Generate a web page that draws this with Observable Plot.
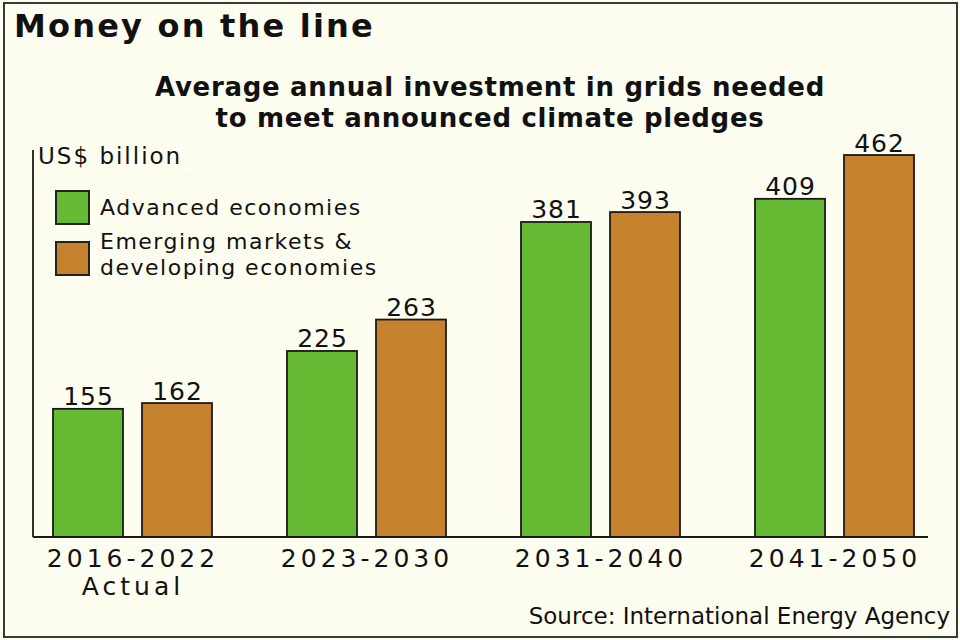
<!DOCTYPE html>
<html><head><meta charset="utf-8">
<script src="https://cdn.jsdelivr.net/npm/d3@7"></script>
<script src="https://cdn.jsdelivr.net/npm/@observablehq/plot@0.6"></script>
<style>
body{margin:0;background:#fdfdf0;}
#wrap{position:relative;width:960px;height:640px;background:#fdfdf0;font-family:"DejaVu Sans",sans-serif;color:#111;overflow:hidden}
#frame{position:absolute;left:3px;top:2px;width:955px;height:636px;border:2px solid #3a3a3a;box-sizing:border-box}
#title{position:absolute;left:14px;top:10px;font-size:32px;line-height:1;font-weight:bold;letter-spacing:2.2px;white-space:nowrap}
#subtitle{position:absolute;left:0;width:980px;top:72px;font-size:26px;line-height:31px;font-weight:bold;text-align:center;letter-spacing:0.7px}
#unit{position:absolute;left:38px;top:145px;font-size:23px;line-height:1;letter-spacing:2px;white-space:nowrap}
#legend{position:absolute;left:55px;top:190px}
.sw{position:absolute;width:35px;height:35px;border:2px solid #222;box-sizing:border-box}
.lt{position:absolute;left:45px;font-size:22px;line-height:26px;white-space:nowrap;letter-spacing:1.5px}
#source{position:absolute;right:10px;top:605px;font-size:23px;line-height:1;white-space:nowrap}
#chart{position:absolute;left:-2px;top:140px}
g[aria-label="fx-axis tick label"] text{letter-spacing:4px}
g[aria-label="text"] text{letter-spacing:1px}
</style>
</head><body>
<div id="wrap">
  <div id="title">Money on the line</div>
  <div id="subtitle">Average annual investment in grids needed<br>to meet announced climate pledges</div>
  <div id="chart"></div>
  <div id="unit">US$ billion</div>
  <div id="legend"></div>
  <div id="source">Source: International Energy Agency</div>
  <div id="frame"></div>
</div>
<script>
const periods = ["2016-2022", "2023-2030", "2031-2040", "2041-2050"];
const periodLabels = ["2016-2022\nActual", "2023-2030", "2031-2040", "2041-2050"];
const series = ["Advanced economies", "Emerging markets & developing economies"];
const seriesLegend = [["Advanced economies"], ["Emerging markets &", "developing economies"]];
const advanced = [155, 225, 381, 409];
const emerging = [162, 263, 393, 462];
const colors = ["#65b933", "#c6812c"];

const data = [];
periods.forEach((p, i) => {
  data.push({period: p, series: series[0], value: advanced[i]});
  data.push({period: p, series: series[1], value: emerging[i]});
});

const plot = Plot.plot({
  width: 960,
  height: 460,
  marginLeft: 33,
  marginRight: 23,
  marginTop: 15,
  marginBottom: 63,
  style: {background: "transparent", fontFamily: "DejaVu Sans, sans-serif", color: "#111", overflow: "visible"},
  fx: {domain: periods, paddingInner: 0.313, paddingOuter: 0.0854},
  x: {domain: series, paddingInner: 0.21, paddingOuter: 0, axis: null},
  y: {domain: [0, 462], axis: null},
  color: {domain: series, range: colors},
  marks: [
    Plot.barY(data, {fx: "period", x: "series", y: "value", fill: "series", stroke: "#1a1a1a", strokeWidth: 1.8}),
    Plot.text(data, {fx: "period", x: "series", y: "value", text: d => String(d.value), lineAnchor: "bottom", dy: -4, fontSize: 25, fill: "#111"}),
    Plot.axisFx({anchor: "bottom", tickSize: 0, tickPadding: 10, label: null, fontSize: 25, lineHeight: 1.1,
      tickFormat: d => periodLabels[periods.indexOf(d)]})
  ]
});
document.getElementById("chart").appendChild(plot);

// axis lines derived from the y scale
const ys = plot.scale("y");
const y0 = ys.apply(0);
const svg = d3.select(plot);
svg.append("line").attr("x1", 35).attr("x2", 930).attr("y1", y0).attr("y2", y0)
  .attr("stroke", "#1a1a1a").attr("stroke-width", 1.8);
svg.append("line").attr("x1", 35).attr("x2", 35).attr("y1", 10).attr("y2", y0)
  .attr("stroke", "#1a1a1a").attr("stroke-width", 1.8);

// legend
const lg = document.getElementById("legend");
const tops = [0, 51];
const textTops = [5, 39];
series.forEach((s, i) => {
  const sw = document.createElement("div");
  sw.className = "sw";
  sw.style.top = tops[i] + "px";
  sw.style.left = "0px";
  sw.style.background = colors[i];
  lg.appendChild(sw);
  seriesLegend[i].forEach((line, j) => {
    const t = document.createElement("div");
    t.className = "lt";
    t.style.top = (textTops[i] + j * 26) + "px";
    t.textContent = line;
    lg.appendChild(t);
  });
});
</script>
</body></html>
